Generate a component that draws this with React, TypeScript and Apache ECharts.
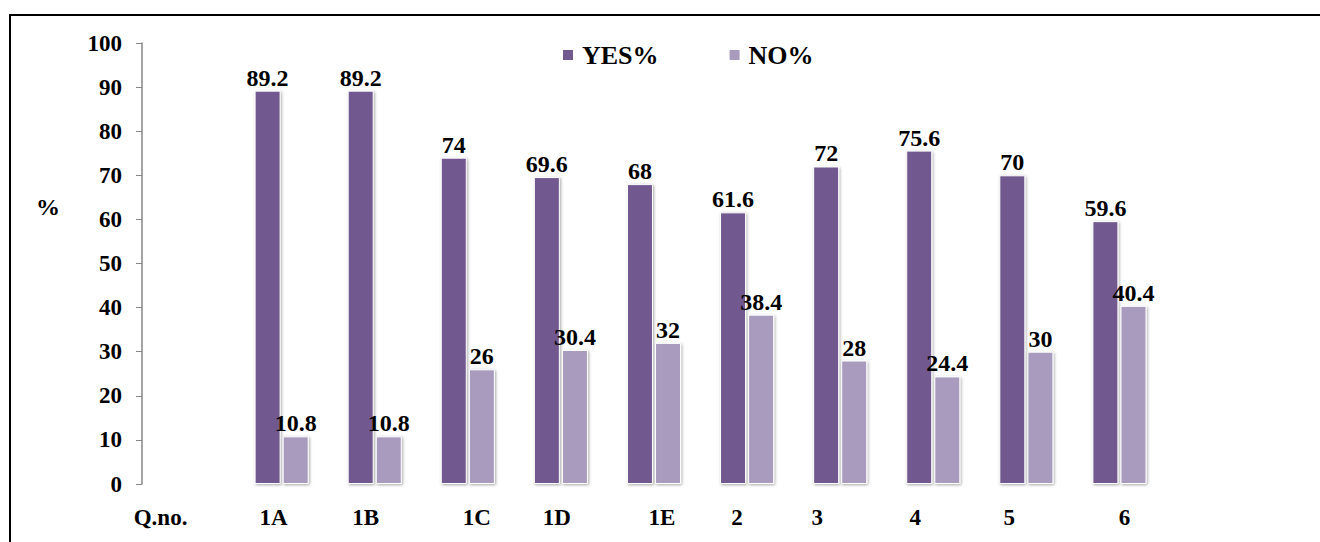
import React, { useEffect, useRef } from "react";
import * as echarts from "echarts";

const axisTitle = "Q.no.";
const questions = ["1A", "1B", "1C", "1D", "1E", "2", "3", "4", "5", "6"];
const yesPct = [89.2, 89.2, 74, 69.6, 68, 61.6, 72, 75.6, 70, 59.6];
const noPct = [10.8, 10.8, 26, 30.4, 32, 38.4, 28, 24.4, 30, 40.4];
const seriesNames = ["YES%", "NO%"];
const yAxisTitle = "%";
const yTicks = { min: 0, max: 100, interval: 10 };

// horizontal nudges of the category labels (as placed in the original)
const labelShift = [-28, -8, -9, 9, -4, 8, -10, -23, -18, -17, 5];

const FONT = "'Liberation Serif', 'Times New Roman', serif";
const YES_COLOR = "#71588F";
const NO_COLOR = "#A99BBE";

export default function App() {
  const ref = useRef<HTMLDivElement>(null);

  useEffect(() => {
    document.body.style.margin = "0";
    if (!ref.current) return;
    const chart = echarts.init(ref.current, undefined, { renderer: "svg" });
    const cats = [axisTitle, ...questions];
    const rich: Record<string, any> = {};
    labelShift.forEach((d, i) => {
      rich["s" + i] = {
        fontFamily: FONT,
        fontWeight: "bold",
        fontSize: 23,
        color: "#000",
        padding: d >= 0 ? [0, 0, 0, 2 * d] : [0, -2 * d, 0, 0],
      };
    });
    const barStyle = (color: string) => ({
      color,
      borderColor: "#ffffff",
      borderWidth: 1,
      shadowBlur: 3,
      shadowColor: "rgba(0,0,0,0.35)",
      shadowOffsetX: 1,
      shadowOffsetY: 1,
    });
    const valueLabel = {
      show: true,
      position: "top",
      distance: 1,
      color: "#000",
      fontFamily: FONT,
      fontWeight: "bold",
      fontSize: 24,
    };
    chart.setOption({
      animation: false,
      backgroundColor: "#ffffff",
      textStyle: { fontFamily: FONT },
      graphic: [
        {
          type: "line",
          shape: { x1: 10, y1: 15, x2: 1320, y2: 15 },
          style: { stroke: "#000", lineWidth: 2 },
          silent: true,
        },
        {
          type: "line",
          shape: { x1: 10, y1: 14, x2: 10, y2: 542 },
          style: { stroke: "#000", lineWidth: 2 },
          silent: true,
        },
        {
          type: "text",
          x: 36,
          y: 195,
          style: {
            text: yAxisTitle,
            fontFamily: FONT,
            fontWeight: "bold",
            fontSize: 24,
            fill: "#000",
          },
          silent: true,
        },
      ],
      legend: {
        left: 561,
        top: 42,
        padding: 0,
        itemWidth: 12,
        itemHeight: 12,
        itemGap: 69,
        icon: "rect",
        textStyle: {
          fontFamily: FONT,
          fontWeight: "bold",
          fontSize: 26,
          color: "#000",
          padding: [0, 0, 0, 3],
        },
        data: seriesNames,
      },
      grid: { left: 142, right: 154, top: 43, bottom: 58, containLabel: false },
      xAxis: {
        type: "category",
        data: cats,
        axisLine: { show: false },
        axisTick: { show: false },
        axisLabel: {
          interval: 0,
          margin: 22,
          formatter: (v: string, i: number) => `{s${i}|${v}}`,
          rich,
        },
      },
      yAxis: {
        type: "value",
        min: yTicks.min,
        max: yTicks.max,
        interval: yTicks.interval,
        axisLine: { show: true, lineStyle: { color: "#868686", width: 1.5 } },
        axisTick: { show: true, length: 6, lineStyle: { color: "#868686" } },
        splitLine: { show: false },
        axisLabel: {
          margin: 20,
          color: "#000",
          fontFamily: FONT,
          fontWeight: "bold",
          fontSize: 23,
        },
      },
      series: [
        {
          name: seriesNames[0],
          type: "bar",
          data: [null, ...yesPct],
          barWidth: 26,
          barGap: "8%",
          itemStyle: barStyle(YES_COLOR),
          label: valueLabel,
        },
        {
          name: seriesNames[1],
          type: "bar",
          data: [null, ...noPct],
          barWidth: 26,
          barGap: "8%",
          itemStyle: barStyle(NO_COLOR),
          label: valueLabel,
        },
      ],
    });
    return () => chart.dispose();
  }, []);

  return <div ref={ref} style={{ width: 1320, height: 542 }} />;
}
